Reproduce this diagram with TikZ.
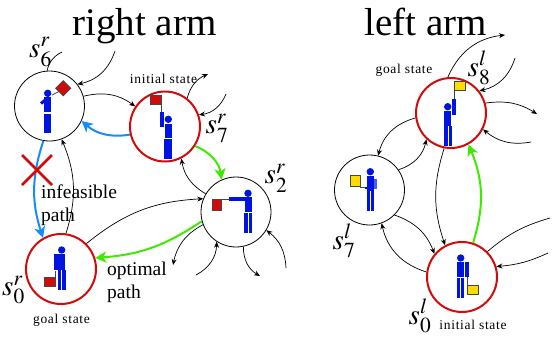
\documentclass[tikz,border=0pt]{standalone}
\usepackage{mathptmx}
\usepackage{fontspec}
\setmainfont{Liberation Serif}
\newfontfamily\tinyfont[LetterSpace=5]{Liberation Serif}
\usepackage{tikz}
\usetikzlibrary{
	arrows.meta,
	positioning,
	calc
}
\usepackage{xcolor}
\definecolor{stred}{RGB}{210,10,10}
\definecolor{stgreen}{RGB}{60,235,0}
\definecolor{stblue}{RGB}{20,140,255}
\definecolor{botblue}{RGB}{0,20,225}
\definecolor{flagyellow}{RGB}{255,220,0}
\definecolor{flagedge}{RGB}{70,70,70}
\tikzset{
	state/.style={circle,draw=black,line width=0.8pt,minimum size=70pt,inner sep=0pt},
	goalstate/.style={state,draw=stred,line width=2pt},
	trans/.style={draw=black,line width=0.7pt},
	greenpath/.style={draw=stgreen,line width=2pt,-{Stealth[length=11pt,width=11pt,inset=3pt]}},
	bluepath/.style={draw=stblue,line width=2pt,-{Stealth[length=11pt,width=11pt,inset=3pt]}},
	part/.style={fill=botblue,draw=none},
	redflag/.style={fill=stred,draw=flagedge,line width=0.9pt},
	yellowflag/.style={fill=flagyellow,draw=flagedge,line width=0.9pt},
	pole/.style={draw=flagedge,line width=0.7pt},
	titletext/.style={font=\fontsize{39}{39}\selectfont,anchor=base,inner sep=0pt},
	statename/.style={font=\fontsize{29}{29}\selectfont,inner sep=0pt},
	smalltext/.style={font=\fontsize{13.5}{13.5}\tinyfont,anchor=base,inner sep=0pt},
	pathtext/.style={font=\fontsize{19.5}{23}\selectfont,anchor=base west,inner sep=0pt}
}

\begin{document}
\begin{tikzpicture}[x=1pt,y=-1pt,>={Stealth[length=6pt,width=5pt]}]
	\useasboundingbox (0,0) rectangle (552,338);
	
	% titles
	\node[titletext] (righttitle) at (144.5,35) {right arm};
	\node[titletext] (lefttitle) at (426,35) {left arm};
	
	% states, right arm
	\node[state] (sr6) at (49.5,106) {};
	\node[goalstate] (sr7) at (165,126.5) {};
	\node[state] (sr2) at (236,212) {};
	\node[goalstate] (sr0) at (61,269) {};
	
	% states, left arm
	\node[goalstate] (sl8) at (451,113) {};
	\node[state] (sl7) at (369.5,190) {};
	\node[goalstate] (sl0) at (462,277) {};
	
	% free ends
	\coordinate (a1) at (62,52);
	\coordinate (a2) at (115,51);
	\coordinate (a3) at (208,74);
	\coordinate (a4) at (226,94);
	\coordinate (a5) at (173,265);
	\coordinate (a6) at (196,275);
	\coordinate (a7) at (260,276);
	\coordinate (a8) at (286,268);
	\coordinate (b1) at (505,35);
	\coordinate (b2) at (515,58);
	\coordinate (b3) at (537,114);
	\coordinate (b4) at (531,142);
	\coordinate (b5) at (550,218);
	\coordinate (b6) at (548,253);
	
	% connectors, right arm
	\draw[trans] (sr6.94) to[bend left=25] (a1);
	\draw[trans,->] (a2) to[bend left=30] (sr6.38);
	\draw[trans,->] (sr6.16) to[bend left=25] (sr7.146);
	\draw[trans,->] (sr7.52) to[bend left=25] (a3);
	\draw[trans,->] (a4) to[bend left=30] (sr7.19);
	\draw[trans,->] (sr2.149) to[bend left=25] (sr7.-63);
	\draw[trans,->] (sr0.82) to[bend right=20] (sr6.-70);
	\draw[trans,->] (sr0.45) to[bend left=18] (sr2.158);
	\draw[trans,->] (sr2.201) to[bend right=25] (a5);
	\draw[trans,->] (a6) to[bend right=30] (sr2.237);
	\draw[trans,->] (sr2.-78) to[bend right=30] (a7);
	\draw[trans,->] (a8) to[bend right=25] (sr2.-31);
	
	% planned paths
	\draw[bluepath] (sr7.193) to[bend left=25] (sr6.-25);
	\draw[bluepath] (sr6.-100) to[bend right=18] (sr0.120);
	\draw[greenpath] (sr7.-33) to[bend left=30] (sr2.114);
	\draw[greenpath] (sr2.195) to[bend left=15] (sr0.18);
	
	% connectors, left arm
	\draw[trans,->] (sl8.95) to[bend left=30] (b1);
	\draw[trans,->] (b2) to[bend left=30] (sl8.38);
	\draw[trans,->] (sl8.16) to[bend left=20] (b3);
	\draw[trans,->] (b4) to[bend left=25] (sl8.-27);
	\draw[trans,->] (sl8.188) to[bend right=30] (sl7.76);
	\draw[trans,->] (sl7.35) to[bend right=30] (sl8.227);
	\draw[trans,->] (sl8.259) to[bend right=18] (sl0.118);
	\draw[trans,->] (sl7.-45) to[bend left=25] (sl0.140);
	\draw[trans,->] (sl0.172) to[bend left=30] (sl7.-70);
	\draw[trans] (sl0.45) to[bend left=12] (b5);
	\draw[trans,->] (b6) to[bend left=10] (sl0.17);
	\draw[greenpath] (sl0.72) to[bend right=20] (sl8.-61);
	
	% cross on the blocked path
	\coordinate (x1) at (22,155);
	\coordinate (x2) at (52,185);
	\coordinate (x3) at (22,185);
	\coordinate (x4) at (52,155);
	\draw[stred,line width=2.6pt] (x1) -- (x2);
	\draw[stred,line width=2.6pt] (x3) -- (x4);
	
	% figure in s6
	\draw[pole] (52,95) -- (60,91);
	\fill[part] (47.7,93.3) circle (3.7);
	\fill[part] (44,97) rectangle (51,112);
	\fill[part] (44,113.5) rectangle (47.5,132.7);
	\fill[part] (48.3,113.5) rectangle (51,132.7);
	\draw[botblue,line width=3pt] (41,103.5) -- (49,97);
	\draw[redflag] (63.3,80.8) -- (70.8,88.3) -- (63.3,95.8) -- (55.8,88.3) -- cycle;
	
	% figure in s7
	\draw[pole] (161.7,104) -- (161.7,112);
	\draw[redflag] (150.7,95) rectangle (161.7,104);
	\fill[part] (160,112) rectangle (163.7,127.3);
	\fill[part] (168.3,119.3) circle (3.7);
	\fill[part] (164.7,124) rectangle (171.7,138.3);
	\fill[part] (164,139.3) rectangle (167.7,158.7);
	\fill[part] (168.3,139.3) rectangle (171.7,158.7);
	
	% figure in s2
	\draw[pole] (221,199) -- (229,199);
	\draw[redflag] (212,199.3) rectangle (221,210.3);
	\fill[part] (229,197.3) rectangle (245,200.7);
	\fill[part] (248,193.3) circle (3.7);
	\fill[part] (245,197.3) rectangle (252,212);
	\fill[part] (244.3,213.3) rectangle (248,232.7);
	\fill[part] (248.7,213.3) rectangle (252,232.7);
	
	% figure in s0
	\draw[pole] (55.7,271) -- (55.7,277);
	\draw[redflag] (44.7,277.3) rectangle (55.7,286.7);
	\fill[part] (61.7,250) circle (3.7);
	\fill[part] (54,254) rectangle (65,270);
	\fill[part] (58,270) rectangle (61.3,290);
	\fill[part] (62.3,270) rectangle (65.7,290);
	
	% figure in s8
	\draw[pole] (454,90.7) -- (454,99);
	\draw[yellowflag] (454.3,81.7) rectangle (465.7,90.7);
	\fill[part] (452,99) rectangle (456,115);
	\fill[part] (447.7,106.7) circle (3.7);
	\fill[part] (444.3,111) rectangle (451,126);
	\fill[part] (444.3,126) rectangle (448,146);
	\fill[part] (448.7,126) rectangle (452,146);
	
	% figure in s7 (left)
	\draw[pole] (360,187) -- (365,187);
	\draw[yellowflag] (350.3,175.3) rectangle (360,186.7);
	\fill[part] (365,186.7) rectangle (374,188.7);
	\fill[botblue!70] (373.3,179) rectangle (376.7,188.7);
	\fill[part] (370.3,171.7) circle (3.7);
	\fill[part] (367,176) rectangle (374,190.7);
	\fill[part] (367,190.7) rectangle (370.3,210.7);
	\fill[part] (371.3,190.7) rectangle (374,210.7);
	
	% figure in s0 (left)
	\draw[pole] (467,277.3) -- (467,286);
	\draw[yellowflag] (467,285.7) rectangle (478,294.7);
	\fill[part] (460.7,258) circle (3.7);
	\fill[part] (457,261.7) rectangle (464.3,276.7);
	\fill[part] (465,262.3) rectangle (468.7,277.3);
	\fill[part] (457,278) rectangle (460.3,297.7);
	\fill[part] (461,278) rectangle (464.3,297.7);
	
	% state names
	\node[statename] (nr6) at (40.5,52) {$s^{r}_{6}$};
	\node[statename] (nr7) at (217,128) {$s^{r}_{7}$};
	\node[statename] (nr2) at (276,178) {$s^{r}_{2}$};
	\node[statename] (nr0) at (13.5,290) {$s^{r}_{0}$};
	\node[statename] (nl8) at (479,68) {$s^{l}_{8}$};
	\node[statename] (nl7) at (344,241) {$s^{l}_{7}$};
	\node[statename] (nl0) at (420,316) {$s^{l}_{0}$};
	
	% labels
	\node[smalltext] (initr) at (163.5,83) {initial state};
	\node[smalltext] (goalr) at (61.5,323) {goal state};
	\node[smalltext] (goall) at (404,73) {goal state};
	\node[smalltext] (initl) at (473,329) {initial state};
	\node[pathtext] (inf1) at (41,198) {infeasible};
	\node[pathtext] (inf2) at (41,221) {path};
	\node[pathtext] (opt1) at (107,275) {optimal};
	\node[pathtext] (opt2) at (107,298) {path};
	
\end{tikzpicture}
\end{document}
